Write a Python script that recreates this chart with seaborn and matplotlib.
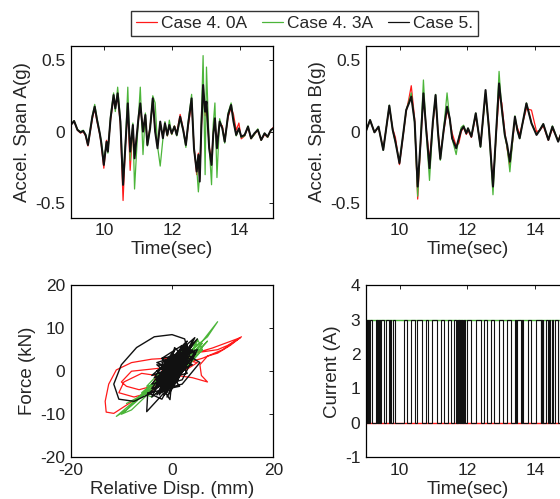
import numpy as np
import pandas as pd
import matplotlib
matplotlib.use("Agg")
import matplotlib.pyplot as plt
import seaborn as sns
from matplotlib.lines import Line2D

# ---------------- data ----------------
case_labels = ["Case 4. 0A", "Case 4. 3A", "Case 5."]
case_colors = ["#ff1a1a", "#4cb53a", "#111111"]

# Span A acceleration (g)
time_a = [9.00, 9.10, 9.20, 9.29, 9.37, 9.44, 9.51, 9.64, 9.71, 9.78,
          9.86, 9.90, 9.98, 10.06, 10.10, 10.18, 10.27, 10.32, 10.39, 10.47,
          10.55, 10.62, 10.69, 10.76, 10.84, 10.89, 11.01, 11.06, 11.14, 11.21,
          11.27, 11.35, 11.43, 11.50, 11.57, 11.65, 11.73, 11.79, 11.86, 11.92,
          11.99, 12.07, 12.14, 12.24, 12.33, 12.41, 12.48, 12.58, 12.65, 12.73,
          12.78, 12.82, 12.87, 12.92, 12.98, 13.02, 13.10, 13.17, 13.22, 13.27,
          13.33, 13.41, 13.49, 13.56, 13.66, 13.75, 13.82, 13.90, 13.98, 14.05,
          14.15, 14.25, 14.34, 14.44, 14.54, 14.64, 14.74, 14.83, 14.93, 15.00]
acc_a_case4_0a = [0.046, 0.072, 0.010, -0.010, 0.000, -0.030, -0.100, 0.090, 0.160, 0.070,
                  -0.020, -0.080, -0.255, -0.060, -0.130, 0.080, 0.240, 0.180, 0.250, 0.050,
                  -0.480, -0.100, 0.170, -0.270, 0.030, -0.170, 0.090, 0.180, 0.010, 0.100,
                  -0.080, 0.030, 0.210, 0.010, -0.100, 0.060, -0.040, 0.050, -0.030, 0.050,
                  -0.020, 0.040, -0.010, 0.120, 0.020, -0.090, 0.040, 0.200, -0.100, -0.300,
                  -0.150, -0.330, 0.030, 0.290, 0.110, 0.180, -0.100, -0.210, -0.010, 0.080,
                  -0.100, 0.060, 0.040, -0.060, 0.100, 0.170, 0.120, 0.010, 0.060, -0.050,
                  -0.030, 0.030, -0.050, -0.020, 0.010, -0.060, -0.020, -0.040, 0.010, 0.030]
acc_a_case4_3a = [0.046, 0.076, 0.015, 0.000, 0.010, -0.020, -0.085, 0.110, 0.190, 0.090,
                  -0.010, -0.060, -0.200, -0.080, -0.150, 0.110, 0.270, 0.140, 0.310, 0.090,
                  -0.350, -0.080, 0.310, -0.200, 0.060, -0.400, 0.120, 0.310, -0.160, 0.130,
                  -0.100, 0.020, 0.250, 0.200, -0.100, -0.240, -0.050, 0.070, -0.030, 0.080,
                  -0.020, 0.040, -0.030, 0.090, 0.010, -0.110, 0.070, 0.260, -0.130, -0.250,
                  -0.420, -0.300, 0.100, 0.530, -0.300, 0.450, -0.100, -0.370, 0.050, 0.200,
                  -0.320, 0.090, 0.020, -0.080, 0.130, 0.200, 0.080, -0.030, 0.020, -0.040,
                  -0.030, 0.040, -0.050, -0.020, 0.020, -0.060, -0.010, -0.040, 0.010, 0.020]
acc_a_case5 = [0.046, 0.074, 0.012, -0.005, 0.005, -0.023, -0.093, 0.104, 0.174, 0.081,
               -0.012, -0.070, -0.232, -0.070, -0.139, 0.093, 0.255, 0.162, 0.267, 0.070,
               -0.371, -0.093, 0.197, -0.139, 0.046, -0.186, 0.104, 0.197, 0.000, 0.116,
               -0.093, 0.023, 0.232, 0.000, -0.116, 0.070, -0.046, 0.058, -0.023, 0.046,
               -0.012, 0.035, -0.023, 0.104, 0.012, -0.093, 0.058, 0.232, -0.116, -0.278,
               -0.162, -0.348, 0.046, 0.325, 0.139, 0.209, -0.116, -0.232, -0.023, 0.093,
               -0.116, 0.070, 0.023, -0.070, 0.116, 0.186, 0.070, -0.023, 0.023, -0.035,
               -0.023, 0.035, -0.046, -0.012, 0.012, -0.058, -0.012, -0.035, 0.012, 0.023]

# Span B acceleration (g)
time_b = [9.00, 9.12, 9.25, 9.37, 9.51, 9.69, 9.79, 9.87, 9.99, 10.11,
          10.19, 10.27, 10.34, 10.44, 10.53, 10.61, 10.70, 10.78, 10.88, 10.98,
          11.06, 11.13, 11.20, 11.30, 11.40, 11.48, 11.55, 11.67, 11.75, 11.82,
          11.89, 11.97, 12.02, 12.12, 12.25, 12.39, 12.54, 12.64, 12.76, 12.86,
          12.94, 13.02, 13.11, 13.18, 13.26, 13.41, 13.48, 13.55, 13.75, 13.90,
          14.05, 14.15, 14.25, 14.40, 14.52, 14.69, 14.85, 15.00]
acc_b_case4_0a = [0.005, 0.080, -0.005, 0.030, -0.120, 0.170, 0.020, -0.040, -0.230, -0.010,
                  0.140, 0.230, 0.320, 0.090, -0.470, -0.110, 0.250, 0.030, -0.200, 0.050,
                  0.220, 0.010, -0.160, 0.000, 0.150, 0.080, -0.010, -0.100, -0.080, 0.000,
                  0.030, -0.020, 0.010, -0.040, 0.110, -0.090, 0.260, 0.040, -0.380, 0.000,
                  0.260, 0.200, 0.000, -0.120, -0.240, 0.080, 0.030, -0.020, 0.160, 0.150,
                  0.000, 0.010, 0.040, -0.060, 0.020, -0.060, 0.030, -0.020]
acc_b_case4_3a = [0.005, 0.082, -0.005, 0.035, -0.130, 0.185, 0.010, -0.075, -0.210, 0.000,
                  0.150, 0.210, 0.270, 0.060, -0.450, -0.090, 0.360, 0.010, -0.340, 0.060,
                  0.260, -0.010, -0.200, 0.020, 0.270, 0.080, -0.050, -0.160, -0.040, 0.030,
                  0.045, -0.010, 0.025, -0.030, 0.130, -0.110, 0.270, 0.010, -0.440, 0.020,
                  0.420, 0.150, -0.030, -0.110, -0.280, 0.110, 0.010, -0.050, 0.200, 0.060,
                  -0.020, 0.015, 0.055, -0.055, 0.040, -0.065, 0.030, -0.020]
acc_b_case5 = [0.005, 0.081, -0.005, 0.035, -0.128, 0.181, 0.012, -0.070, -0.220, 0.000,
               0.151, 0.197, 0.244, 0.070, -0.383, -0.093, 0.267, 0.023, -0.255, 0.070,
               0.255, 0.000, -0.190, 0.012, 0.174, 0.093, -0.046, -0.116, -0.046, 0.012,
               0.035, -0.012, 0.023, -0.035, 0.128, -0.104, 0.290, 0.023, -0.383, 0.023,
               0.336, 0.162, -0.023, -0.093, -0.209, 0.104, 0.012, -0.046, 0.197, 0.058,
               -0.023, 0.012, 0.053, -0.058, 0.035, -0.070, 0.030, -0.020]

# Force (kN) vs relative displacement (mm)
disp_case4_0a = [0, 2, -1, 3, 1, -2, 2, 6, 9, 11, 13.7, 11.5, 9, 7, 5.5, 5.8, 7, 4, 1, -2,
                 -1, -4, -8, -11, -12.5, -13.2, -13, -11.5, -8.5, -5, -2, 1, 4, 8, 13.5, 10, 6, 3, 0, -4,
                 -8, -10, -9, -6.5, -4, -3, -6, -9.5, -10.5, -7.5, -4.5, -1, 2, 4, 2, 0, 3, 5, 1, -2, 0]
force_case4_0a = [0, 2.5, -1.5, 3.5, 1, -2.5, 4, 4.5, 5, 6, 8.0, 6.0, 4.2, 3.5, 1.5, -1.0, -2.5, -1.5, -1, 0,
                  3, 2.8, 2.0, 0.3, -3, -7, -9.5, -9.8, -7.5, -4.8, -2, 1.5, 4, 5.4, 7.8, 5, 3, 2, 1, 0.5,
                  0, -2.5, -3.5, -4.3, -3.5, -1, -0.5, -2.5, -5, -6, -5, -2, 1, 3.5, 2, -0.5, 0.5, 2, 3, -1, 0]
disp_case4_3a = [0, 3, 6, 9, 7, 4, 2, 4, 6, 3, -1, -4, -7, -11, -9, -6, -4, -8, -10, -7,
                 -3, 0, 2, 5, 6, 3, 1, 4, 5.5, 3, -1, -5, -9, -6, -2, 1, 4, 7, 5, 2,
                 -2, -5, -3, 0, 2, -1, -3, 1, 3, 5, 2, -2, -6, -4, 0, 3, 6, 2, -1, 0]
force_case4_3a = [0, 4, 7, 11.5, 8, 5, 2, 6, 6.5, 2, -1, -3, -6.5, -10.5, -9, -5.5, -4.5, -9, -10, -7,
                  -2, 1, 3.5, 7.5, 5, 1.5, 0.5, 4, 6, 3, -2, -5, -7.5, -6, -1.5, 2, 3, 7, 4.5, 0,
                  -3, -3.5, -1, 0.5, 4.5, 1, -2, 0, 3, 7, 4, -1, -5, -6, -2, 1, 5, 5, 1, 0]
disp_case5 = [0, 3, 2.5, 0, -3.5, -7, -10, -11.5, -10.5, -7.5, -4, -1, 2, -3, 4, -2, 3, -4, 4.5, 0,
              -5, -4.8, -2, 1, -3, 5, 2, -4, 3, 0, -2, 3.5, 5.5, 2, -1, 1, -3, 4, 1, -2,
              2, -1, 3, -4, 0, 4, -3, 2, -2, 4.5, 0, -0.4, -3, 1, 3, -1, 2, -3, 5, 0,
              -2, 2.5, -1.5, 3, -3.5, 1.5, 0.5, -2.5, 3.5, 0,
              1.5, -2.5, 3, -1, 4, -3.5, 2, -0.5, 3.5, -2, 1, -4, 2.5, 0, -1.5, 4, -3, 1, 3, -2.5,
              0.5, -3.5, 2, -1, 4.5, -2, 1.5, -4.5, 3, 0.5, -1, 2.5, -3, 1, 4, -1.5, 0, 3, -2, 0]
force_case5 = [0, 5, 7.5, 8.5, 8, 5.5, 1.5, -3, -6.5, -7, -5, -2, 4, -3, 6.5, -5, 2, -1, 7.8, -3,
               -9.4, -5, -6.5, 0, 2, 5, -2, -4, 7, 2, -1, 3.5, 2, -3, -4, 3, 0, 5, -1, 3,
               6, -3, 1, -6, 4, 1.5, -2, 5.5, -4.5, 4, -1.5, -6.6, -2, 2, 6, -5, 1, -3, 7.5, 0,
               3, 4, -2.5, 6, -4, -1, 3, -5.5, 5, 0,
               4.5, -3.5, 5.5, -2, 6, -4, 3, -5, 5, 1, -1.5, -3, 6.5, -4, 2.5, 3, -5.5, 4, -0.5, -2,
               5, -1.5, 1, -6, 4.5, 2, -3.5, -5, 2.5, 5.5, -4, 0.5, 1.5, -2.5, 7, -5.5, 3.5, 4.5, -1, 0]

# Current (A): switching instants of the on-off controller (Case 5)
switch_times = [9.04, 9.07, 9.10, 9.13, 9.19, 9.30, 9.32, 9.34, 9.36, 9.38, 9.41, 9.43,
                9.52, 9.60, 9.68, 9.70, 9.74, 9.81, 9.87, 10.13, 10.20, 10.33, 10.45, 10.52,
                10.67, 10.77, 10.85, 10.94, 11.10, 11.22, 11.32, 11.42, 11.53, 11.62, 11.66,
                11.68, 11.70, 11.72, 11.74, 11.76, 11.78, 11.80, 11.83, 11.86, 11.88, 11.90,
                11.94, 11.98, 12.12, 12.27, 12.40, 12.48, 12.57, 12.70, 12.80, 12.95, 13.07,
                13.17, 13.28, 13.40, 13.43, 13.48, 13.58, 13.62, 13.66, 13.80, 13.90, 14.03,
                14.17, 14.19, 14.21, 14.23, 14.25, 14.32, 14.38, 14.42, 14.46, 14.50, 14.54,
                14.60, 14.68, 14.75, 14.82, 14.90, 14.96]
current_levels = [3, 0]
current_case4_0a = [0, 0]
current_case4_3a = [3, 3]
current_span = [9.0, 15.0]

# ---------------- style ----------------
sns.set_theme(style="white")
plt.rcParams["font.family"] = ["Liberation Sans", "DejaVu Sans"]
plt.rcParams["axes.unicode_minus"] = False
FS_TICK = 12.5
FS_LAB = 13.5

fig = plt.figure(figsize=(5.6, 4.99), dpi=100)
L1, L2, W = 0.1263, 0.6536, 0.3618
B1, B2, H = 0.5637, 0.0836, 0.345
ax_a = fig.add_axes([L1, B1, W, H])
ax_b = fig.add_axes([L2, B1, W, H])
ax_h = fig.add_axes([L1, B2, W, H])
ax_c = fig.add_axes([L2, B2, W, H])

lws = [0.9, 0.9, 1.45]

def ts(ax, t, series):
    for vals, c, lw in zip(series, case_colors, lws):
        sns.lineplot(x=t, y=vals, color=c, lw=lw, ax=ax, sort=False, estimator=None)

ts(ax_a, time_a, [acc_a_case4_0a, acc_a_case4_3a, acc_a_case5])
ts(ax_b, time_b, [acc_b_case4_0a, acc_b_case4_3a, acc_b_case5])

for d, f, c, lw in zip([disp_case4_0a, disp_case4_3a, disp_case5],
                       [force_case4_0a, force_case4_3a, force_case5], case_colors, [0.9, 0.9, 1.0]):
    sns.lineplot(x=d, y=f, color=c, lw=lw, ax=ax_h, sort=False, estimator=None)

# current step traces
sns.lineplot(x=current_span, y=current_case4_0a, color=case_colors[0], lw=1.0, ax=ax_c,
             sort=False, estimator=None)
sns.lineplot(x=current_span, y=current_case4_3a, color=case_colors[1], lw=1.0, ax=ax_c,
             sort=False, estimator=None)
cx, cy = [current_span[0]], [current_levels[0]]
state = 0
for s in switch_times:
    cx += [s, s]
    cy += [current_levels[state], current_levels[1 - state]]
    state = 1 - state
cx.append(current_span[1])
cy.append(current_levels[state])
sns.lineplot(x=cx, y=cy, color=case_colors[2], lw=0.8, ax=ax_c, sort=False, estimator=None)

# axes formatting
for ax in (ax_a, ax_b):
    ax.set_xlim(9, 15)
    ax.set_ylim(-0.6, 0.6)
    ax.set_xticks([10, 12, 14])
    ax.set_yticks([-0.5, 0, 0.5])
    ax.set_yticklabels(["-0.5", "0", "0.5"])
    ax.set_xlabel("Time(sec)", fontsize=FS_LAB, labelpad=2)
ax_a.set_ylabel("Accel. Span A(g)", fontsize=FS_LAB, labelpad=3)
ax_b.set_ylabel("Accel. Span B(g)", fontsize=FS_LAB, labelpad=3)

ax_h.set_xlim(-20, 20)
ax_h.set_ylim(-20, 20)
ax_h.set_xticks([-20, 0, 20])
ax_h.set_yticks([-20, -10, 0, 10, 20])
ax_h.set_xlabel("Relative Disp. (mm)", fontsize=FS_LAB, labelpad=2)
ax_h.set_ylabel("Force (kN)", fontsize=FS_LAB, labelpad=3)

ax_c.set_xlim(9, 15)
ax_c.set_ylim(-1, 4)
ax_c.set_xticks([10, 12, 14])
ax_c.set_yticks([-1, 0, 1, 2, 3, 4])
ax_c.set_xlabel("Time(sec)", fontsize=FS_LAB, labelpad=2)
ax_c.set_ylabel("Current (A)", fontsize=FS_LAB, labelpad=3)

for ax in (ax_a, ax_b, ax_h, ax_c):
    ax.tick_params(direction="in", length=3, width=0.7, top=True, right=True,
                   labelsize=FS_TICK, colors="#222222")
    ax.tick_params(axis="x", pad=4)
    ax.tick_params(axis="y", pad=4)
    for sp in ax.spines.values():
        sp.set_visible(True)
        sp.set_color("black")
        sp.set_linewidth(0.9)
    if ax.get_legend() is not None:
        ax.get_legend().remove()

handles = [Line2D([0], [0], color=c, lw=0.9) for c in case_colors]
leg = fig.legend(handles, case_labels, loc="center", bbox_to_anchor=(0.544, 0.953), ncol=3,
                 frameon=True, fancybox=False, edgecolor="black", fontsize=FS_TICK,
                 handlelength=1.2, handletextpad=0.2, columnspacing=0.9, borderpad=0.3,
                 borderaxespad=0)
leg.get_frame().set_linewidth(1.0)

fig.savefig("out.png", dpi=100)
